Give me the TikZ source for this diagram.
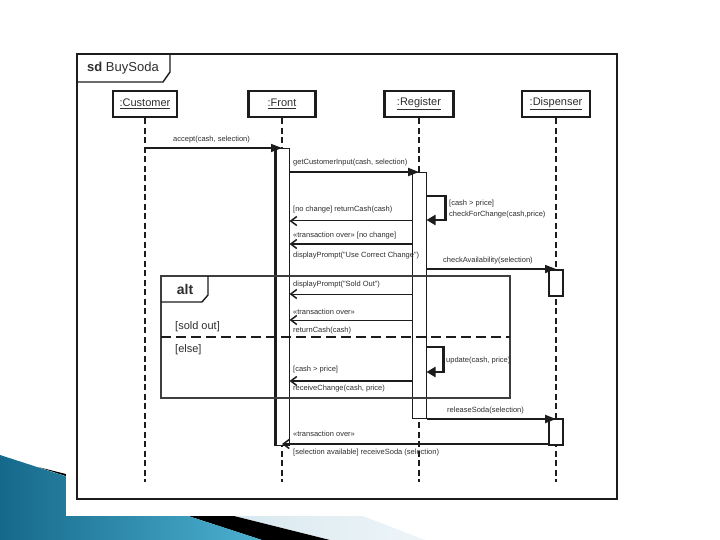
\documentclass[tikz,border=0pt]{standalone}
\usepackage{fontspec}
\setmainfont{Liberation Sans}
\usetikzlibrary{arrows.meta,calc}
\definecolor{ink}{HTML}{1C1C1C}
\definecolor{txt}{HTML}{2E2E2E}
\definecolor{tealA}{HTML}{15698A}
\definecolor{tealB}{HTML}{4DB1D1}
\definecolor{paleA}{HTML}{CFE3EC}
\definecolor{paleB}{HTML}{EEF5F8}
\begin{document}
\begin{tikzpicture}[x=1pt,y=-1pt,
  lifeline/.style={draw=ink, line width=2pt, dash pattern=on 6pt off 3.5pt},
  head/.style={draw=ink, line width=2.6pt, fill=white, minimum height=26pt, inner sep=2pt, font=\fontsize{11}{13}\selectfont, text=txt},
  actbar/.style={draw=ink, line width=1pt, fill=white, inner sep=0pt, anchor=north},
  lbl/.style={anchor=west, inner sep=0pt, font=\fontsize{7.5}{9}\selectfont, text=txt},
  guard/.style={anchor=west, inner sep=0pt, font=\fontsize{11}{13}\selectfont, text=txt},
  sync/.style={draw=ink, -{Triangle[length=11pt,width=8pt]}},
  reply/.style={draw=ink, -{Straight Barb[length=6pt,width=9pt,line width=1.5pt]}},
  selfmsg/.style={draw=ink, line width=2.6pt, -{Triangle[length=9pt,width=10pt]}},
  framebox/.style={draw=ink, line width=1.4pt}
]
\useasboundingbox (0,0) rectangle (720,540);
\fill[white] (0,0) rectangle (720,540);
% slide decoration
\shade[left color=paleA, right color=paleB] (149,495) -- (308,495) -- (425,540) -- (330,540) -- cycle;
\fill[black] (38,467) -- (330,540) -- (262,540) -- cycle;
\shade[left color=tealA, right color=tealB] (0,455) -- (262,540) -- (0,540) -- cycle;
% picture area
\fill[white] (66,44) rectangle (628,516);
% outer frame
\draw[ink, line width=2pt] (77,54) rectangle (617,499);
\draw[framebox] (77,82) -- (163,82) -- (170,72) -- (170,54);
\node[anchor=west, inner sep=0pt, font=\fontsize{13}{15}\selectfont, text=txt] (sdlbl) at (87,68) {\textbf{sd} BuySoda};
% lifeline heads
\node[head, minimum width=64pt] (cust) at (145,104) {\underline{:Customer}};
\node[head, minimum width=67pt] (front) at (282,104) {\underline{:Front}};
\node[head, minimum width=69pt] (reg) at (419,104) {\underline{:Register}};
\node[head, minimum width=68pt] (disp) at (556,104) {\underline{:Dispenser}};
\coordinate (custEnd) at (145,482);
\coordinate (frontEnd) at (282,482);
\coordinate (regEnd) at (419,482);
\coordinate (dispEnd) at (556,482);
\draw[lifeline] (cust) -- (custEnd);
\draw[lifeline] (front) -- (frontEnd);
\draw[lifeline] (reg) -- (regEnd);
\draw[lifeline] (disp) -- (dispEnd);
% activation bars
\node[actbar, minimum width=13pt, minimum height=297pt] (frontbar) at (282.5,148) {};
\draw[ink, line width=2.2pt] (frontbar.north west) -- (frontbar.south west);
\node[actbar, minimum width=14pt, minimum height=246pt] (regbar) at (419,172) {};
\node[actbar, line width=2pt, minimum width=14pt, minimum height=26pt] (dispbar1) at (556,269) {};
\node[actbar, line width=2pt, minimum width=14pt, minimum height=26pt] (dispbar2) at (556,418) {};
% alt fragment
\draw[framebox, draw=ink!85] (161,276) rectangle (510,398);
\draw[framebox] (161,302) -- (202,302) -- (208,295) -- (208,276);
\node[inner sep=0pt, font=\bfseries\fontsize{14}{16}\selectfont, text=txt] (altlbl) at (185,289) {alt};
\draw[ink, line width=2.4pt, dash pattern=on 10pt off 5pt] (161,337) -- (510,337);
\node[guard] (g1) at (175,327) {[sold out]};
\node[guard] (g2) at (175,350) {[else]};
% message levels
\coordinate (La) at (0,148);
\coordinate (Lb) at (0,172);
\coordinate (Lc) at (0,196);
\coordinate (Ld) at (0,220);
\coordinate (Le) at (0,221);
\coordinate (Lf) at (0,244);
\coordinate (Lg) at (0,269);
\coordinate (Lh) at (0,294);
\coordinate (Li) at (0,320);
\coordinate (Lj) at (0,347);
\coordinate (Lk) at (0,372);
\coordinate (Ll) at (0,381);
\coordinate (Lm) at (0,419);
\coordinate (Ln) at (0,444);
% messages
\draw[sync, line width=1.5pt] (cust |- La) -- (front |- La);
\node[lbl] (t1) at (173,140) {accept(cash, selection)};
\draw[sync, line width=2.2pt] (frontbar.east |- Lb) -- (reg |- Lb);
\node[lbl] (t2) at (293,163) {getCustomerInput(cash, selection)};
\draw[selfmsg] (regbar.east |- Lc) -- ++(19,0) |- (regbar.east |- Ld);
\node[lbl] (t3) at (449,204) {[cash > price]};
\node[lbl] (t4) at (449,215) {checkForChange(cash,price)};
\draw[reply, line width=1pt] (regbar.west |- Le) -- (frontbar.east |- Le);
\node[lbl] (t5) at (293,210) {[no change] returnCash(cash)};
\draw[reply, line width=2pt] (regbar.west |- Lf) -- (frontbar.east |- Lf);
\node[lbl] (t6) at (293,236) {«transaction over» [no change]};
\node[lbl] (t7) at (293,256) {displayPrompt("Use Correct Change")};
\draw[sync, line width=1.6pt] (regbar.east |- Lg) -- (disp |- Lg);
\node[lbl] (t8) at (443,261) {checkAvailability(selection)};
\draw[reply, line width=1pt] (regbar.west |- Lh) -- (frontbar.east |- Lh);
\node[lbl] (t9) at (293,285) {displayPrompt("Sold Out")};
\draw[reply, line width=1pt] (regbar.west |- Li) -- (frontbar.east |- Li);
\node[lbl] (t10) at (293,312) {«transaction over»};
\node[lbl] (t11) at (293,331) {returnCash(cash)};
\draw[selfmsg] (regbar.east |- Lj) -- ++(17,0) |- (regbar.east |- Lk);
\node[lbl] (t12) at (446,361) {update(cash, price)};
\draw[reply, line width=1.5pt] (regbar.west |- Ll) -- (frontbar.east |- Ll);
\node[lbl] (t13) at (293,370) {[cash > price]};
\node[lbl] (t14) at (293,389) {receiveChange(cash, price)};
\draw[sync, line width=2.2pt] (regbar.east |- Lm) -- (disp |- Lm);
\node[lbl] (t15) at (447,411) {releaseSoda(selection)};
\draw[reply, line width=2pt] (dispbar2.west |- Ln) -- (front |- Ln);
\node[lbl] (t16) at (293,434) {«transaction over»};
\node[lbl] (t17) at (293,453) {[selection available] receiveSoda (selection)};
\end{tikzpicture}
\end{document}
